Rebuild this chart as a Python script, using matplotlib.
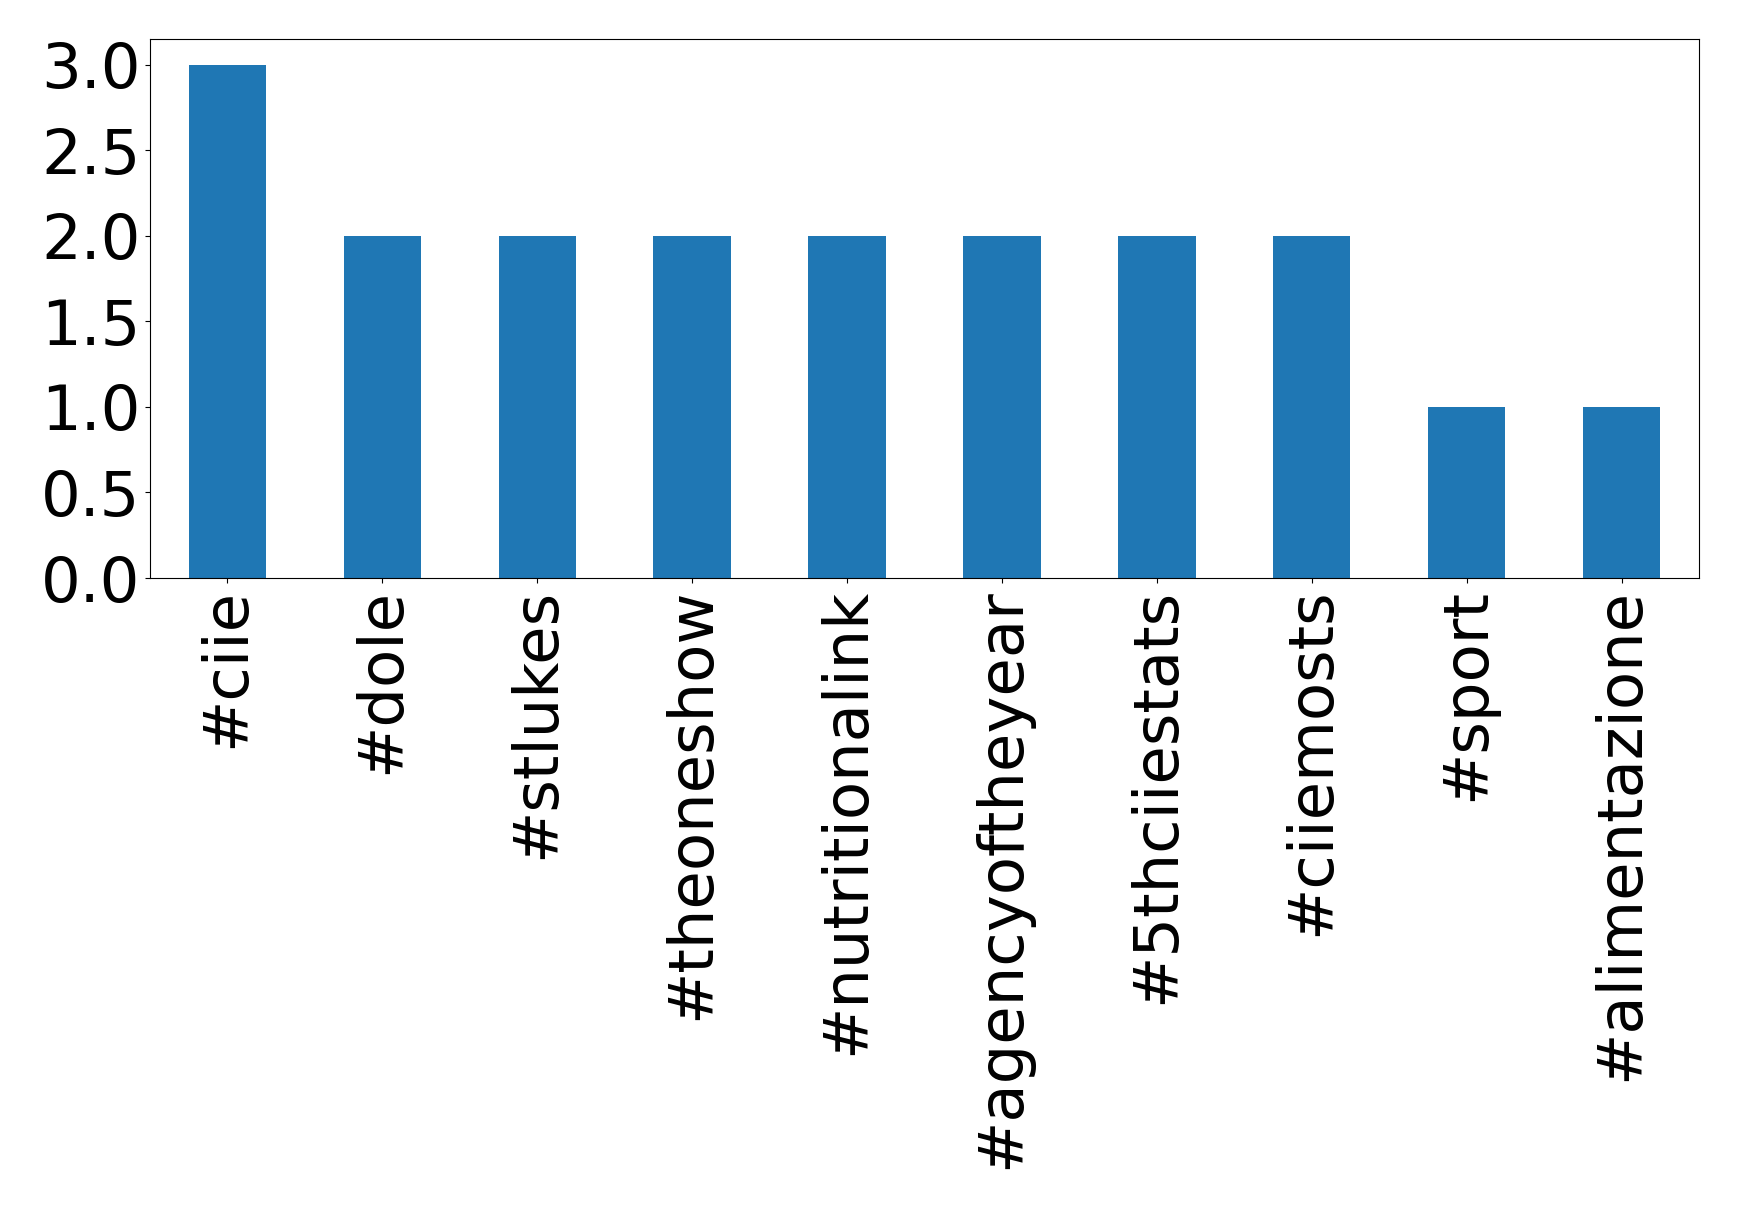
import matplotlib
matplotlib.use('Agg')
import matplotlib.pyplot as plt
import numpy as np
import pandas as pd

hashtags = ['#ciie', '#dole', '#stlukes', '#theoneshow', '#nutritionalink',
            '#agencyoftheyear', '#5thciiestats', '#ciiemosts', '#sport', '#alimentazione']
counts = [3, 2, 2, 2, 2, 2, 2, 2, 1, 1]

s = pd.Series(counts, index=hashtags)

fig = plt.figure(figsize=(17.39, 12.09), dpi=100)
ax = fig.add_axes([150 / 1739, 1 - 578 / 1209, (1699 - 150) / 1739, (578 - 39) / 1209])
s.plot(kind='bar', ax=ax, fontsize=45, color='#1f77b4')

fig.savefig('out.png', dpi=100)
